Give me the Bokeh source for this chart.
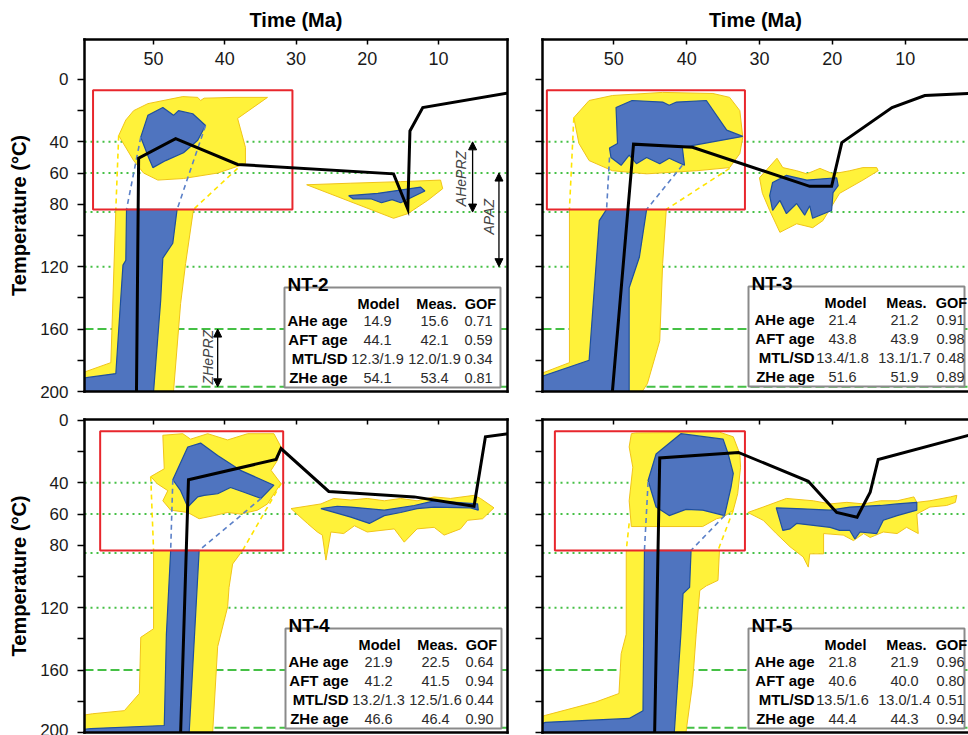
from bokeh.plotting import figure
from bokeh.models import Range1d, FixedTicker, LinearAxis, Span, Label, Arrow, NormalHead
from bokeh.layouts import row, column
from bokeh.embed import file_html
from bokeh.resources import INLINE
import math

FONT = "Liberation Sans"

# ---------------- shared values ----------------
X_TICKS = [50, 40, 30, 20, 10]
Y_TICKS = [0, 20, 40, 60, 80, 100, 120, 140, 160, 180, 200]
Y_TICK_LABELS = {0: "0", 20: "", 40: "40", 60: "60", 80: "80", 100: "", 120: "120",
                 140: "", 160: "160", 180: "", 200: "200"}
ZONE_DOTTED = [40, 60, 85, 120]
ZONE_DASHED = [160, 197]
ROW_NAMES = ["AHe age", "AFT age", "MTL/SD", "ZHe age"]
COL_NAMES = ["Model", "Meas.", "GOF"]

# partial retention / annealing zones (annotated in NT-2)
ZONE_NAMES = ["AHePRZ", "APAZ", "ZHePRZ"]
ZONE_ARROW_MA = [5.2, 1.5, 41.0]
ZONE_TOP_T = [40, 60, 160]
ZONE_BOTTOM_T = [85, 120, 197]
ZONE_LABEL_MA = [6.8, 2.9, 42.4]
ZONE_LABEL_T = [63.5, 88, 178]

# ---------------- NT-2 ----------------
NT2_MODEL = ["14.9", "44.1", "12.3/1.9", "54.1"]
NT2_MEAS = ["15.6", "42.1", "12.0/1.9", "53.4"]
NT2_GOF = ["0.71", "0.59", "0.34", "0.81"]
NT2_BOX_MA = [58.5, 30.5]
NT2_BOX_T = [7, 83.3]
NT2_PATH_MA = [52.4, 52.1, 46.9, 38.2, 16.3, 14.3, 14.0, 12.2, 0.0]
NT2_PATH_T = [200, 50.5, 38, 54.5, 60.5, 83, 33, 18, 8.5]
NT2_ACC1_MA = [54.9, 53.9, 52.8, 50.8, 45.9, 43.8, 43.4, 42.9, 38.7, 34.0, 38.2, 37.1, 37.1, 41.0, 45.8, 49.4, 51.4, 52.8]
NT2_ACC1_T = [36, 26, 20, 15.5, 11, 11.5, 13.5, 12, 11.5, 11.5, 25, 43.5, 54, 60, 63.5, 64.5, 60, 52]
NT2_GOOD1_MA = [51.8, 50.8, 48.7, 47.2, 46.5, 44.5, 42.7, 43.8, 45.8, 48.3, 50.1, 50.7]
NT2_GOOD1_T = [37, 23, 18, 23, 20, 22, 29.5, 39, 47, 52, 56.5, 50]
NT2_ACC2_MA = [55.3, 56.0, 60.0, 60.0, 47.2, 46.2, 45.5, 44.4]
NT2_ACC2_T = [83.3, 181.5, 188, 200, 200, 143.5, 118, 83.3]
NT2_GOOD2_MA = [53.8, 53.9, 54.3, 55.3, 59.2, 60.0, 60.0, 50.0, 49.0, 48.7, 47.3, 46.7]
NT2_GOOD2_T = [83.3, 116, 119, 188.5, 191, 191.5, 200, 200, 141.5, 114.5, 105, 83.3]
NT2_ACC3_MA = [28.5, 16.3, 14.3, 11.5, 9.4, 9.7, 15.3, 22.3]
NT2_ACC3_T = [67.5, 89, 86, 77.5, 70, 64.5, 65.5, 66.5]
NT2_GOOD3_MA = [22.6, 18.5, 12.5, 11.9, 13.5, 15.3, 16.5, 18.0, 19.5, 22.0]
NT2_GOOD3_T = [74.5, 73, 69, 71.5, 75, 79, 77, 79, 76.5, 76.5]
NT2_ACC_DASH_MA = [[54.9, 55.3], [38.2, 44.4]]
NT2_ACC_DASH_T = [[36, 83.3], [57, 83.3]]
NT2_GOOD_DASH_MA = [[51.8, 53.8], [42.7, 46.7]]
NT2_GOOD_DASH_T = [[37, 83.3], [29.5, 83.3]]

# ---------------- NT-3 ----------------
NT3_MODEL = ["21.4", "43.8", "13.4/1.8", "51.6"]
NT3_MEAS = ["21.2", "43.9", "13.1/1.7", "51.9"]
NT3_GOF = ["0.91", "0.98", "0.48", "0.89"]
NT3_BOX_MA = [59.2, 32.0]
NT3_BOX_T = [7, 83.3]
NT3_PATH_MA = [50.2, 47.3, 39.2, 23.1, 20.1, 18.7, 11.8, 7.3, 0.0]
NT3_PATH_T = [200, 41.5, 43.5, 68.5, 68.5, 40.5, 18, 10.3, 8.7]
NT3_ACC1_MA = [55.5, 53.4, 50.2, 43.3, 36.4, 34.1, 32.7, 32.3, 32.7, 34.1, 38.6, 45.5, 50.2, 53.4, 54.8]
NT3_ACC1_T = [24.5, 13.5, 10.3, 8.3, 9.0, 11.5, 20, 37, 47.5, 56.5, 58.5, 60.5, 58.5, 52, 41]
NT3_GOOD1_MA = [49.7, 47.5, 43.3, 42.4, 41.4, 37.3, 34.5, 32.3, 40.6, 40.3, 42.4, 43.7, 45.5, 46.9, 47.9, 49.0, 50.4, 50.6, 49.5]
NT3_GOOD1_T = [18, 13.5, 14.5, 16.5, 14.5, 13.5, 32.5, 36.5, 43.5, 55, 50.5, 54, 50, 54, 48.5, 55, 50, 44, 41]
NT3_ACC2_MA = [56.1, 56.1, 60.0, 60.0, 46.1, 45.4, 43.7, 43.3, 42.8]
NT3_ACC2_T = [83.3, 181.5, 188.5, 200, 200, 195, 167.5, 118, 83.3]
NT3_GOOD2_MA = [51.0, 52.0, 53.4, 60.0, 60.0, 47.9, 47.9, 46.5, 45.5]
NT3_GOOD2_T = [83.3, 90.5, 180, 190.5, 200, 200, 133.5, 114, 83.3]
NT3_ACC3_MA = [30.0, 27.6, 26.8, 24.9, 23.5, 21.7, 19.9, 17.6, 15.8, 13.9, 13.7, 15.8, 19.0, 21.3, 22.7, 24.9, 27.2, 28.6, 29.6]
NT3_ACC3_T = [63, 50.5, 56.5, 58.5, 60.5, 57, 60.5, 58.5, 56.5, 56.5, 58.5, 64.5, 73, 90.5, 95, 92.5, 98, 84, 73]
NT3_GOOD3_MA = [28.2, 26.3, 23.5, 19.4, 19.2, 19.9, 20.1, 22.7, 23.1, 23.8, 24.9, 26.3, 27.2, 28.2, 28.6]
NT3_GOOD3_T = [66, 61.5, 64.5, 63, 68, 72.5, 84, 89, 81, 87, 79.5, 86, 77.5, 84, 74.5]
NT3_ACC_DASH_MA = [[55.5, 56.1], [34.1, 42.8]]
NT3_ACC_DASH_T = [[24.5, 83.3], [57, 83.3]]
NT3_GOOD_DASH_MA = [[50.6, 51.0], [40.6, 45.5]]
NT3_GOOD_DASH_T = [[50, 83.3], [55, 83.3]]

# ---------------- NT-4 ----------------
NT4_MODEL = ["21.9", "41.2", "13.2/1.3", "46.6"]
NT4_MEAS = ["22.5", "41.5", "12.5/1.6", "46.4"]
NT4_GOF = ["0.64", "0.94", "0.44", "0.90"]
NT4_BOX_MA = [57.5, 31.8]
NT4_BOX_T = [7, 83.3]
NT4_PATH_MA = [46.2, 45.1, 32.8, 32.1, 25.4, 13.4, 5.0, 3.4, 0.0]
NT4_PATH_T = [200, 38, 25, 18, 45.5, 49, 55, 10.5, 8.4]
NT4_ACC1_MA = [50.4, 48.5, 48.7, 45.9, 44.8, 42.4, 39.6, 36.8, 33.1, 32.1, 32.6, 33.5, 32.1, 33.1, 34.0, 35.4, 37.8, 39.6, 41.5, 43.6, 45.2, 47.6, 48.7, 48.0, 49.5]
NT4_ACC1_T = [36, 31, 9.5, 8.5, 12, 8.5, 12.5, 8.5, 8.5, 17, 25.5, 32, 40.5, 47, 53.5, 57.5, 60, 59, 61, 63, 59, 57.5, 51.5, 45, 40.5]
NT4_GOOD1_MA = [47.3, 45.2, 43.4, 41.0, 37.8, 33.1, 34.9, 37.3, 39.2, 41.0, 42.9, 43.8, 45.2, 46.2]
NT4_GOOD1_T = [38, 17, 14.5, 22.5, 32, 41.5, 50, 46, 43, 47, 48, 49, 55.5, 45]
NT4_ACC2_MA = [50.0, 50.0, 51.8, 52.0, 54.1, 58.6, 60.0, 60.0, 41.7, 41.0, 39.6, 39.4, 38.9, 37.5]
NT4_ACC2_T = [83.3, 133.5, 139, 175, 186, 188, 189, 200, 200, 145, 119.5, 107, 92, 83.3]
NT4_GOOD2_MA = [47.6, 48.2, 48.5, 58.8, 60.0, 60.0, 45.0, 43.6]
NT4_GOOD2_T = [83.3, 137, 195.5, 197.5, 198, 200, 200, 83.3]
NT4_ACC3_MA = [30.7, 26.5, 24.7, 22.3, 20.0, 17.6, 15.3, 13.0, 10.6, 8.3, 5.0, 4.1, 2.2, 3.8, 5.9, 6.9, 9.2, 10.6, 13.0, 14.8, 16.2, 20.0, 21.8, 23.3, 25.1, 25.8, 26.3, 27.0, 28.4]
NT4_ACC3_T = [56.5, 53.5, 50, 51, 50, 51.5, 50, 51.5, 49, 50, 48, 50, 56, 63, 64, 69.5, 73.5, 68.5, 69.5, 78, 69.5, 71.5, 67.5, 72.5, 71.5, 89.5, 73.5, 71.5, 66]
NT4_GOOD3_MA = [26.5, 24.2, 22.3, 17.6, 13.4, 10.6, 4.5, 4.4, 5.5, 10.6, 13.0, 15.3, 17.6, 19.7, 22.3]
NT4_GOOD3_T = [56.5, 55, 55.5, 57.5, 54.5, 51.5, 53.5, 57.5, 56, 55.5, 56.5, 59, 61, 66, 62]
NT4_ACC_DASH_MA = [[50.4, 50.0], [32.1, 37.5]]
NT4_ACC_DASH_T = [[36, 83.3], [40.5, 83.3]]
NT4_GOOD_DASH_MA = [[47.3, 47.6], [34.9, 43.6]]
NT4_GOOD_DASH_T = [[38, 83.3], [50, 83.3]]

# ---------------- NT-5 ----------------
NT5_MODEL = ["21.8", "40.6", "13.5/1.6", "44.4"]
NT5_MEAS = ["21.9", "40.0", "13.0/1.4", "44.3"]
NT5_GOF = ["0.96", "0.80", "0.51", "0.94"]
NT5_BOX_MA = [58.1, 32.0]
NT5_BOX_T = [7, 83.3]
NT5_PATH_MA = [44.4, 43.7, 32.9, 23.3, 19.4, 16.6, 14.8, 13.7, 0.0]
NT5_PATH_T = [200, 24, 20.5, 39, 59, 62, 46, 25, 8]
NT5_ACC1_MA = [47.6, 47.0, 35.5, 33.6, 32.7, 32.6, 33.0, 33.6, 35.0, 35.9, 37.8, 47.6, 47.9, 47.4, 47.9]
NT5_ACC1_T = [8.5, 8, 7.5, 10.5, 21.5, 30, 47, 57.5, 62, 63, 68, 68, 51.5, 30, 17]
NT5_GOOD1_MA = [45.3, 44.2, 40.8, 35.0, 34.3, 33.6, 33.9, 34.8, 37.8, 40.1, 42.4, 44.2]
NT5_GOOD1_T = [38.5, 21.5, 8.5, 12, 21.5, 34, 42.5, 61, 57.5, 57, 61, 55.5]
NT5_ACC2_MA = [48.3, 48.3, 49.0, 49.3, 52.5, 59.4, 60.0, 60.0, 40.1, 39.2, 38.7, 38.2, 37.3, 35.7, 35.5]
NT5_ACC2_T = [83.3, 137, 149.5, 175, 180.5, 189, 190, 200, 200, 169, 137, 109, 106, 102.5, 83.3]
NT5_GOOD2_MA = [45.8, 46.0, 47.9, 59.4, 60.0, 60.0, 41.7, 40.8, 40.5, 39.6, 39.4]
NT5_GOOD2_T = [83.3, 186, 191, 193.5, 194.5, 200, 200, 137, 111, 107, 83.3]
NT5_ACC3_MA = [31.6, 29.5, 26.3, 22.6, 20.3, 18.0, 15.7, 13.4, 11.1, 8.8, 8.4, 6.6, 3.8, 2.9, 3.1, 4.3, 6.6, 8.4, 8.2, 9.8, 11.1, 13.0, 14.8, 15.7, 17.1, 18.5, 21.2, 21.2, 23.1, 23.3, 24.0, 25.8, 27.7, 29.5]
NT5_ACC3_T = [59, 55.5, 50, 51.5, 53.5, 52.5, 53.5, 51.5, 51.5, 49, 52.5, 51.5, 49, 48, 52.5, 54.5, 55.5, 60, 72.5, 68.5, 72.5, 71.5, 75, 72.5, 77, 73.5, 72.5, 85.5, 85.5, 94, 87.5, 81, 72.5, 64]
NT5_GOOD3_MA = [27.7, 24.9, 20.3, 17.6, 13.4, 11.1, 8.4, 8.4, 11.1, 13.0, 13.9, 16.2, 16.9, 17.6, 19.0, 20.3, 24.9, 25.8, 26.8]
NT5_GOOD3_T = [56, 56.5, 57.5, 55.5, 54.5, 53.5, 52.5, 57.5, 61, 64, 72.5, 71.5, 76, 70.5, 70.5, 68.5, 66, 69.5, 70.5]
NT5_ACC_DASH_MA = [[47.9, 48.3], [33.6, 35.7]]
NT5_ACC_DASH_T = [[66, 83.3], [57.5, 83.3]]
NT5_GOOD_DASH_MA = [[45.3, 45.8], [34.8, 39.4]]
NT5_GOOD_DASH_T = [[39.5, 83.3], [61, 83.3]]

# ---------------- styling / layout ----------------
YELLOW, YELLOW_EDGE, YELLOW_DASH = "#fff23a", "#f0c419", "#ffe400"
BLUE, BLUE_EDGE, BLUE_DASH = "#4f74bf", "#1f4f9e", "#5b80c8"
RED = "#e8262c"
GREEN = "#45c045"

LEFT_W, RIGHT_W = 525, 443
TOP_H, BOT_H = 405, 330
LEFT_FW, RIGHT_FW = 423, 426
TOP_FH, BOT_FH = 352, 313
TABLE_W, TABLE_H = 216, 100
# table column offsets (px from box left): row-label right edge, headers, values
COLS_LEFT = (63, [94, 152, 196], [93, 150, 194])
COLS_RIGHT = (66, [97, 158, 203], [94, 156, 202])


def make_panel(width, height, bl, br, bt, bb, xr, yr, fw, fh, top_labels, left_labels, right_frame):
    p = figure(width=width, height=height, x_range=Range1d(*xr), y_range=Range1d(*yr),
               x_axis_location="above", y_axis_location="left", title=None,
               output_backend="svg", toolbar_location=None,
               min_border_left=bl, min_border_right=br, min_border_top=bt, min_border_bottom=bb)
    p.grid.visible = False
    p.outline_line_color = None
    p.background_fill_color = "white"
    p.border_fill_color = "white"
    p._fw, p._fh = fw, fh

    xa = p.xaxis[0]
    xa.ticker = FixedTicker(ticks=X_TICKS)
    xa.major_tick_in = 5
    xa.major_tick_out = 0
    xa.major_tick_line_width = 1.5
    xa.minor_tick_line_color = None
    xa.axis_line_width = 2.5
    xa.axis_line_cap = "square"
    if top_labels:
        xa.axis_label = "Time (Ma)"
        xa.axis_label_text_font = FONT
        xa.axis_label_text_font_size = "20px"
        xa.axis_label_text_font_style = "bold"
        xa.axis_label_text_color = "black"
        xa.major_label_text_font = FONT
        xa.major_label_text_font_size = "18px"
        xa.major_label_text_color = "#1a1a1a"
        xa.major_label_standoff = -25
        xa.axis_label_standoff = 18
    else:
        xa.major_label_text_font_size = "1px"
        xa.major_label_text_color = None
        xa.major_label_standoff = 0

    ya = p.yaxis[0]
    ya.ticker = FixedTicker(ticks=Y_TICKS)
    ya.major_tick_in = 0
    ya.major_tick_out = 7
    ya.major_tick_line_width = 1.5
    ya.minor_tick_line_color = None
    ya.axis_line_width = 2.5
    ya.axis_line_cap = "square"
    if left_labels:
        ya.major_label_overrides = Y_TICK_LABELS
        ya.major_label_text_font = FONT
        ya.major_label_text_font_size = "17px"
        ya.major_label_text_color = "#1a1a1a"
        ya.major_label_standoff = 9
        ya.axis_label = "Temperature (°C)"
        ya.axis_label_text_font = FONT
        ya.axis_label_text_font_size = "20px"
        ya.axis_label_text_font_style = "bold"
        ya.axis_label_text_color = "black"
        ya.axis_label_standoff = 7
    else:
        ya.major_label_text_font_size = "1px"
        ya.major_label_text_color = None
        ya.major_label_standoff = 0

    sides = ["below", "right"] if right_frame else ["below"]
    for side in sides:
        ax = LinearAxis(ticker=FixedTicker(ticks=[]), major_label_text_font_size="1px",
                        major_label_text_color=None,
                        major_label_standoff=0, major_tick_in=0, major_tick_out=0,
                        major_tick_line_color=None, minor_tick_line_color=None,
                        axis_line_width=2.5, axis_line_cap="square")
        p.add_layout(ax, side)

    for t in ZONE_DOTTED:
        p.add_layout(Span(location=t, dimension="width", line_color=GREEN, line_width=2,
                          line_dash="2 4", level="underlay"))
    for t in ZONE_DASHED:
        p.add_layout(Span(location=t, dimension="width", line_color=GREEN, line_width=2,
                          line_dash="9 4", level="underlay"))
    return p


def draw_history(p, acc_ma, acc_t, good_ma, good_t, accd_ma, accd_t, goodd_ma, goodd_t,
                 box_ma, box_t, path_ma, path_t):
    p.patches(xs=acc_ma, ys=acc_t, fill_color=YELLOW, line_color=YELLOW_EDGE, line_width=1)
    p.patches(xs=good_ma, ys=good_t, fill_color=BLUE, line_color=BLUE_EDGE, line_width=1.2)
    p.multi_line(xs=accd_ma, ys=accd_t, line_color=YELLOW_DASH, line_width=1.6, line_dash="5 4")
    p.multi_line(xs=goodd_ma, ys=goodd_t, line_color=BLUE_DASH, line_width=1.6, line_dash="5 4")
    p.quad(left=[box_ma[0]], right=[box_ma[1]], top=[box_t[0]], bottom=[box_t[1]],
           fill_color=None, line_color=RED, line_width=2)
    p.line(path_ma, path_t, line_color="black", line_width=3, line_join="miter")


def to_data(p, dx, dy):
    xs, xe = p.x_range.start, p.x_range.end
    yb, yt = p.y_range.start, p.y_range.end
    return xs + (xe - xs) * dx / p._fw, yt + (yb - yt) * dy / p._fh


def add_table(p, bx, by, cols, name, model, meas, gof):
    lab_r, head_x, val_x = cols
    l, t = to_data(p, bx, by)
    r, b = to_data(p, bx + TABLE_W, by + TABLE_H)
    p.quad(left=[l], right=[r], top=[t], bottom=[b], fill_color="white",
           line_color="#8a8a8a", line_width=2)

    def lab(dx, dy, text, size, style, align, color="black"):
        x, y = to_data(p, bx + dx, by + dy)
        p.add_layout(Label(x=x, y=y, text=text, text_font=FONT, text_font_size=size,
                           text_font_style=style, text_align=align,
                           text_baseline="alphabetic", text_color=color))

    lab(3, -3, name, "19px", "bold", "left")
    for cx, c in zip(head_x, COL_NAMES):
        lab(cx, 16, c, "14.5px", "bold", "center")
    for ry, rn, m1, m2, g in zip([33, 52, 71, 90], ROW_NAMES, model, meas, gof):
        lab(lab_r, ry, rn, "15px", "bold", "right")
        for vx, v in zip(val_x, [m1, m2, g]):
            lab(vx, ry, v, "14.5px", "normal", "center", "#2b2b2b")


# ---------------- panels ----------------
p1 = make_panel(LEFT_W, TOP_H, 84, 18, 39, 14, (59.7, 0.3), (200, -25.6), LEFT_FW, TOP_FH, True, True, True)
draw_history(p1, [NT2_ACC1_MA, NT2_ACC2_MA, NT2_ACC3_MA], [NT2_ACC1_T, NT2_ACC2_T, NT2_ACC3_T],
             [NT2_GOOD1_MA, NT2_GOOD2_MA, NT2_GOOD3_MA], [NT2_GOOD1_T, NT2_GOOD2_T, NT2_GOOD3_T],
             NT2_ACC_DASH_MA, NT2_ACC_DASH_T, NT2_GOOD_DASH_MA, NT2_GOOD_DASH_T,
             NT2_BOX_MA, NT2_BOX_T, NT2_PATH_MA, NT2_PATH_T)
for ma, t0, t1 in zip(ZONE_ARROW_MA, ZONE_TOP_T, ZONE_BOTTOM_T):
    p1.add_layout(Arrow(x_start=ma, y_start=t0, x_end=ma, y_end=t1, line_width=1.3,
                        start=NormalHead(size=8, fill_color="black", line_color="black"),
                        end=NormalHead(size=8, fill_color="black", line_color="black")))
for nm, ma, t in zip(ZONE_NAMES, ZONE_LABEL_MA, ZONE_LABEL_T):
    p1.add_layout(Label(x=ma, y=t, text=nm, angle=math.pi / 2, text_font=FONT,
                        text_font_size="14px", text_font_style="italic",
                        text_align="center", text_baseline="middle"))
add_table(p1, 200, 248, COLS_LEFT, "NT-2", NT2_MODEL, NT2_MEAS, NT2_GOF)

p2 = make_panel(RIGHT_W, TOP_H, 17, 0, 39, 14, (59.8, 1.3), (200, -25.6), RIGHT_FW, TOP_FH, True, False, False)
draw_history(p2, [NT3_ACC1_MA, NT3_ACC2_MA, NT3_ACC3_MA], [NT3_ACC1_T, NT3_ACC2_T, NT3_ACC3_T],
             [NT3_GOOD1_MA, NT3_GOOD2_MA, NT3_GOOD3_MA], [NT3_GOOD1_T, NT3_GOOD2_T, NT3_GOOD3_T],
             NT3_ACC_DASH_MA, NT3_ACC_DASH_T, NT3_GOOD_DASH_MA, NT3_GOOD_DASH_T,
             NT3_BOX_MA, NT3_BOX_T, NT3_PATH_MA, NT3_PATH_T)
add_table(p2, 206, 247, COLS_RIGHT, "NT-3", NT3_MODEL, NT3_MEAS, NT3_GOF)

p3 = make_panel(LEFT_W, BOT_H, 84, 18, 14, 3, (59.7, 0.3), (200, -0.6), LEFT_FW, BOT_FH, False, True, True)
draw_history(p3, [NT4_ACC1_MA, NT4_ACC2_MA, NT4_ACC3_MA], [NT4_ACC1_T, NT4_ACC2_T, NT4_ACC3_T],
             [NT4_GOOD1_MA, NT4_GOOD2_MA, NT4_GOOD3_MA], [NT4_GOOD1_T, NT4_GOOD2_T, NT4_GOOD3_T],
             NT4_ACC_DASH_MA, NT4_ACC_DASH_T, NT4_GOOD_DASH_MA, NT4_GOOD_DASH_T,
             NT4_BOX_MA, NT4_BOX_T, NT4_PATH_MA, NT4_PATH_T)
add_table(p3, 201, 209, COLS_LEFT, "NT-4", NT4_MODEL, NT4_MEAS, NT4_GOF)

p4 = make_panel(RIGHT_W, BOT_H, 17, 0, 14, 3, (59.8, 1.3), (200, -0.6), RIGHT_FW, BOT_FH, False, False, False)
draw_history(p4, [NT5_ACC1_MA, NT5_ACC2_MA, NT5_ACC3_MA], [NT5_ACC1_T, NT5_ACC2_T, NT5_ACC3_T],
             [NT5_GOOD1_MA, NT5_GOOD2_MA, NT5_GOOD3_MA], [NT5_GOOD1_T, NT5_GOOD2_T, NT5_GOOD3_T],
             NT5_ACC_DASH_MA, NT5_ACC_DASH_T, NT5_GOOD_DASH_MA, NT5_GOOD_DASH_T,
             NT5_BOX_MA, NT5_BOX_T, NT5_PATH_MA, NT5_PATH_T)
add_table(p4, 206, 209, COLS_RIGHT, "NT-5", NT5_MODEL, NT5_MEAS, NT5_GOF)

layout = column(row(p1, p2), row(p3, p4))
open("out.html", "w").write(file_html(layout, INLINE))
